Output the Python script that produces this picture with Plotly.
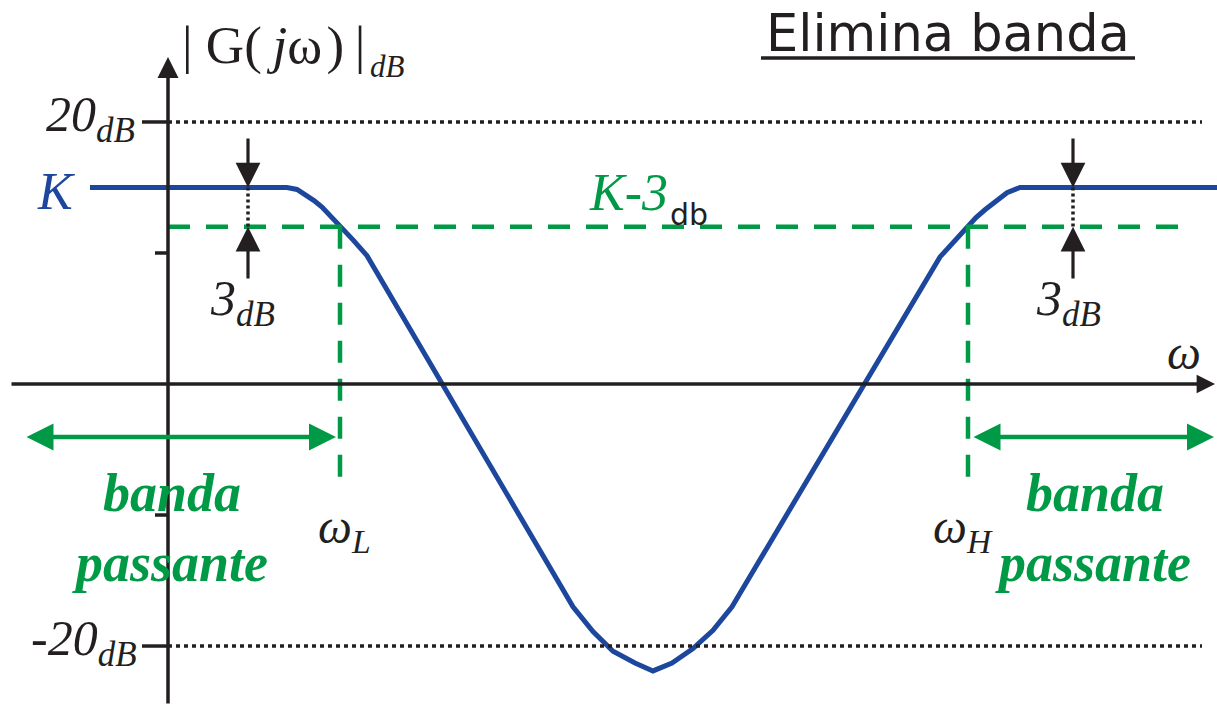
import plotly.graph_objects as go

# ---- data (omega in arbitrary units, magnitude in dB) ----
omega = [-0.78, 1.19, 1.29, 1.37, 1.46, 1.54, 1.63, 1.72, 1.85, 1.99,
         4.05, 4.25, 4.45, 4.67, 4.85, 5.04, 5.25, 5.45, 5.64,
         7.72, 7.86, 7.99, 8.08, 8.17, 8.28, 8.39, 8.52, 10.49]
mag_db = [15, 15, 14.85, 14.5, 14.0, 13.5, 12.8, 12.0, 11.0, 9.8,
          -17, -18.9, -20.4, -21.3, -21.9, -21.3, -20.2, -18.8, -17,
          9.7, 10.9, 12.0, 12.7, 13.3, 14.0, 14.6, 15, 15]
K_db = 15
K3_db = 12
w_L = 1.72
w_H = 8.0
ref_levels = [20, -20]
minor_ticks = [10, -10]

BLUE = "#1c479c"
GREEN = "#009a46"
BLACK = "#231f20"
SERIF = "Liberation Serif"
SANS = "DejaVu Sans"

X0, X1 = -1.68, 10.49
Y0, Y1 = -24.73, 29.31

# pixel helpers for decorative placement (1217 x 708 canvas)
def px(x):
    return X0 + (X1 - X0) * x / 1217.0

def py(y):
    return Y1 - (Y1 - Y0) * y / 708.0

fig = go.Figure()

fig.add_trace(go.Scatter(x=omega, y=mag_db, mode="lines",
                         line=dict(color=BLUE, width=5, shape="linear"),
                         hoverinfo="skip", showlegend=False))

shapes = []
for lv in ref_levels:
    shapes.append(dict(type="line", x0=0, x1=px(1202), y0=lv, y1=lv,
                       line=dict(color=BLACK, width=3.5, dash="4px,4px")))
    shapes.append(dict(type="line", x0=px(142), x1=0, y0=lv, y1=lv,
                       line=dict(color=BLACK, width=3.5)))
for lv in minor_ticks:
    shapes.append(dict(type="line", x0=px(155), x1=0, y0=lv, y1=lv,
                       line=dict(color=BLACK, width=3.5)))
shapes.append(dict(type="line", x0=0, x1=px(1185), y0=K3_db, y1=K3_db,
                   line=dict(color=GREEN, width=4.5, dash="22px,16px")))
for w in (w_L, w_H):
    shapes.append(dict(type="line", x0=w, x1=w, y0=K3_db, y1=py(478),
                       line=dict(color=GREEN, width=4.5, dash="22px,16px")))
for xx in (px(248), px(1073)):
    shapes.append(dict(type="line", x0=xx, x1=xx, y0=K_db, y1=K3_db,
                       line=dict(color=BLACK, width=3.5, dash="3px,3px")))
shapes.append(dict(type="line", x0=px(761), x1=px(1135), y0=py(58), y1=py(58),
                   line=dict(color=BLACK, width=3.5)))

ann = []
def arrow(xt, yt, xs, ys, color, width, size, both=False):
    d = dict(x=xt, y=yt, ax=xs, ay=ys, xref="x", yref="y", axref="x", ayref="y",
             text="", showarrow=True, arrowhead=2, arrowsize=size, arrowwidth=width,
             arrowcolor=color)
    if both:
        d.update(arrowside="end+start", startarrowhead=2, startarrowsize=size)
    ann.append(d)

arrow(0, py(57), 0, py(705), BLACK, 3.5, 1.2)
arrow(px(1215), 0, px(10), 0, BLACK, 3.5, 1.05)
for xx in (px(248), px(1073)):
    arrow(xx, K_db, xx, py(137), BLACK, 3.2, 1.55)
    arrow(xx, K3_db, xx, py(280), BLACK, 3.2, 1.55)
arrow(px(336), py(437), px(25), py(437), GREEN, 4.5, 1.2, both=True)
arrow(px(1214), py(437), px(972), py(437), GREEN, 4.5, 1.2, both=True)

def text(x, y, t, size, color=BLACK, family=SERIF, xanchor="center", yanchor="middle"):
    ann.append(dict(x=x, y=y, xref="x", yref="y", text=t, showarrow=False,
                    font=dict(size=size, color=color, family=family),
                    xanchor=xanchor, yanchor=yanchor, borderpad=0))

text(px(366), py(45), "| G(&#8201;<i>j</i>ω&#8202;)&#8201;|", 53, xanchor="right")
text(px(369), py(66), "<i>dB</i>", 31, xanchor="left")
text(px(136), 20.3, "<i>20</i><sub><i>dB</i></sub>", 50, xanchor="right")
text(px(138), -19.7, "<i>-20</i><sub><i>dB</i></sub>", 50, xanchor="right")
text(px(56), K_db - 0.3, "<i>K</i>", 52, color=BLUE)
text(px(588), py(192), "<i>K-3</i>", 52, color=GREEN, xanchor="left")
text(px(669), py(214), "db", 30, family=SANS, xanchor="left")
text(px(242), py(302), "<i>3</i><sub><i>dB</i></sub>", 50)
text(px(1068), py(302), "<i>3</i><sub><i>dB</i></sub>", 50)
text(px(1184), py(352), "<i>ω</i>", 48)
text(px(344), py(530), "<i>ω</i><sub><i>L</i></sub>", 48)
text(px(963), py(530), "<i>ω</i><sub><i>H</i></sub>", 48)
text(px(170), py(528), "<b><i>banda<br>passante</i></b>", 54, color=GREEN)
text(px(1093), py(528), "<b><i>banda<br>passante</i></b>", 54, color=GREEN)
text(px(948), py(33), "Elimina banda", 51, family=SANS)

fig.update_layout(
    width=1217, height=708, margin=dict(l=0, r=0, t=0, b=0),
    paper_bgcolor="white", plot_bgcolor="white",
    xaxis=dict(range=[X0, X1], visible=False, fixedrange=True),
    yaxis=dict(range=[Y0, Y1], visible=False, fixedrange=True),
    shapes=shapes, annotations=ann, showlegend=False,
)

fig.write_html("out.html", config={"displayModeBar": False},
               post_script="document.body.style.margin='0px';")
